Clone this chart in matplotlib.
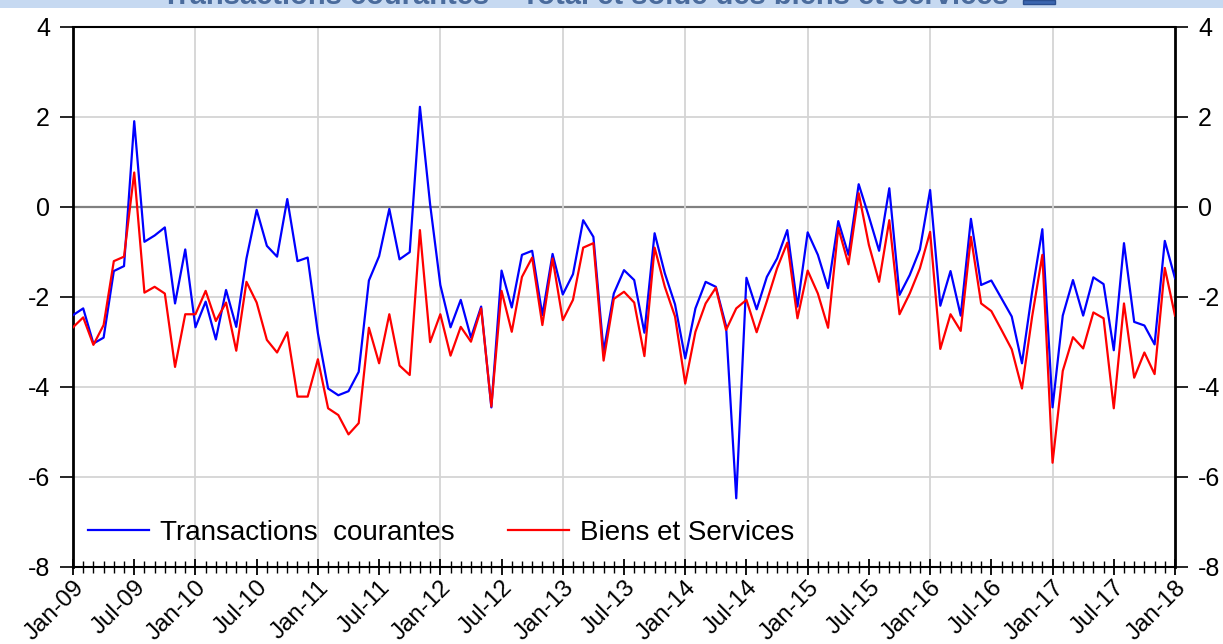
import matplotlib
matplotlib.use("Agg")
import matplotlib.pyplot as plt
from matplotlib.patches import Rectangle
from matplotlib.ticker import FixedLocator, FuncFormatter

plt.rcParams['font.family'] = ['Liberation Sans', 'DejaVu Sans']

# monthly series, Jan-09 .. Jan-18 (109 months)
transactions = [
    -2.41, -2.26, -3.04, -2.91, -1.43, -1.32, 1.90, -0.78, -0.64, -0.46, -2.15, -0.95,
    -2.68, -2.11, -2.95, -1.85, -2.67, -1.15, -0.07, -0.87, -1.11, 0.17, -1.21, -1.13,
    -2.81, -4.04, -4.19, -4.10, -3.67, -1.64, -1.10, -0.05, -1.17, -1.01, 2.22, 0.05,
    -1.74, -2.68, -2.07, -2.91, -2.22, -4.46, -1.42, -2.24, -1.07, -0.98, -2.41, -1.05,
    -1.95, -1.50, -0.30, -0.67, -3.22, -1.93, -1.41, -1.63, -2.80, -0.59, -1.48, -2.17,
    -3.37, -2.26, -1.67, -1.78, -2.65, -6.48, -1.58, -2.28, -1.56, -1.15, -0.52, -2.22,
    -0.57, -1.07, -1.81, -0.32, -1.07, 0.50, -0.22, -0.98, 0.41, -1.96, -1.52, -0.95,
    0.37, -2.20, -1.43, -2.42, -0.27, -1.74, -1.64, -2.04, -2.44, -3.48, -1.89, -0.50,
    -4.46, -2.42, -1.63, -2.42, -1.57, -1.72, -3.19, -0.81, -2.56, -2.64, -3.06, -0.76,
    -1.59,
]
biens_services = [
    -2.68, -2.46, -3.07, -2.63, -1.21, -1.11, 0.76, -1.91, -1.78, -1.93, -3.56, -2.39,
    -2.39, -1.87, -2.54, -2.13, -3.20, -1.67, -2.13, -2.96, -3.24, -2.79, -4.22, -4.22,
    -3.39, -4.48, -4.63, -5.06, -4.81, -2.69, -3.48, -2.39, -3.53, -3.74, -0.52, -3.01,
    -2.39, -3.31, -2.67, -3.00, -2.26, -4.44, -1.87, -2.78, -1.56, -1.13, -2.63, -1.15,
    -2.52, -2.07, -0.91, -0.81, -3.42, -2.05, -1.89, -2.13, -3.32, -0.91, -1.78, -2.44,
    -3.93, -2.78, -2.15, -1.80, -2.74, -2.26, -2.07, -2.79, -2.10, -1.37, -0.80, -2.48,
    -1.42, -1.93, -2.69, -0.47, -1.28, 0.30, -0.85, -1.67, -0.30, -2.39, -1.93, -1.37,
    -0.56, -3.16, -2.39, -2.76, -0.67, -2.15, -2.32, -2.74, -3.17, -4.04, -2.44, -1.07,
    -5.69, -3.65, -2.90, -3.15, -2.35, -2.48, -4.48, -2.15, -3.80, -3.24, -3.72, -1.36,
    -2.42,
]
months = list(range(len(transactions)))
tick_labels = ["Jan-09", "Jul-09", "Jan-10", "Jul-10", "Jan-11", "Jul-11", "Jan-12",
               "Jul-12", "Jan-13", "Jul-13", "Jan-14", "Jul-14", "Jan-15", "Jul-15",
               "Jan-16", "Jul-16", "Jan-17", "Jul-17", "Jan-18"]
y_ticks = [4, 2, 0, -2, -4, -6, -8]

W, H = 1223, 644
fig = plt.figure(figsize=(W / 100, H / 100), dpi=100)
ax = fig.add_axes([73 / W, 1 - 566.7 / H, (1175 - 73) / W, (566.7 - 26.7) / H])

# cut-off title band at the top
fig.patches.append(Rectangle((0, 1 - 8 / H), 1, 8 / H, transform=fig.transFigure,
                             facecolor='#c6d9f1', edgecolor='none', zorder=0))
fig.text(585 / W, 1 - 4 / H, "Transactions courantes \u2013 Total et solde des biens et services",
         ha='center', va='baseline', fontsize=21, fontweight='bold', color='#4a6b9c')
fig.patches.append(Rectangle((1023 / W, 1 - 4 / H), 32 / W, 4 / H, transform=fig.transFigure,
                             facecolor='#3b66b0', edgecolor='#2a4f90', zorder=1))

# grid
for yv in y_ticks:
    if yv == 0:
        ax.axhline(yv, color='#808080', lw=1.6, zorder=1)
    else:
        ax.axhline(yv, color='#d4d4d4', lw=1.3, zorder=1)
for xv in range(12, len(months) - 1, 12):
    ax.axvline(xv, color='#d4d4d4', lw=1.3, zorder=1)

ax.plot(months, transactions, color='#0000ff', lw=1.6, label="Transactions  courantes", zorder=3)
ax.plot(months, biens_services, color='#ff0000', lw=1.6, label="Biens et Services", zorder=4)

ax.set_xlim(0, len(months) - 1)
ax.set_ylim(-8, 4)

ax.set_yticks(y_ticks)
ax.yaxis.set_major_formatter(FuncFormatter(lambda v, p: '%d' % v))
ax.tick_params(axis='y', direction='out', length=9.5, width=1.2, labelsize=18, pad=7,
               left=True, right=True, labelleft=True, labelright=True)

ax.xaxis.set_major_locator(FixedLocator(list(range(0, len(months), 6))))
ax.xaxis.set_minor_locator(FixedLocator(months))
ax.set_xticklabels(tick_labels, rotation=45, ha='right', va='top', rotation_mode='anchor')
ax.tick_params(axis='x', which='major', direction='inout', length=12, width=1.3,
               labelsize=17.5, pad=1)
ax.tick_params(axis='x', which='minor', direction='inout', length=8.5, width=1.0)

for s in ax.spines.values():
    s.set_color('black')
ax.spines['left'].set_linewidth(2)
ax.spines['right'].set_linewidth(2)
ax.spines['top'].set_linewidth(1.5)
ax.spines['bottom'].set_linewidth(1.5)

ax.legend(loc='center left', bbox_to_anchor=(88 / W, 1 - 532.7 / H),
          bbox_transform=fig.transFigure, ncol=2, frameon=False, fontsize=20,
          handlelength=2.2, handletextpad=0.4, columnspacing=1.9, borderpad=0,
          borderaxespad=0)

fig.savefig("out.png", dpi=100)
